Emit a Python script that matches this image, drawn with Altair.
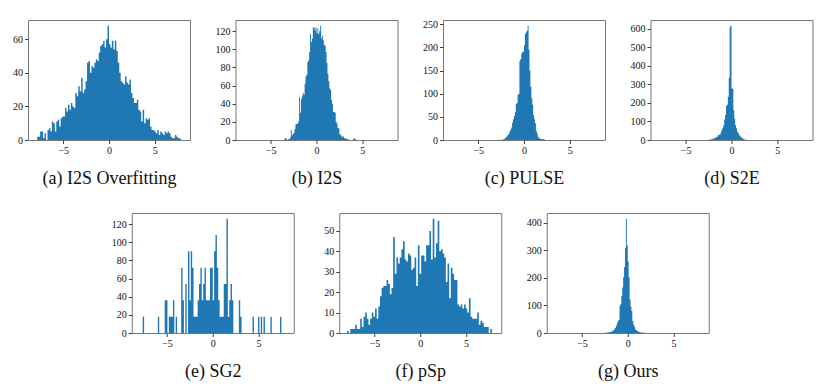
import altair as alt
import pandas as pd

BLUE = "#1f77b4"
X_DOMAIN = [-8.85, 8.85]
SERIF = "Liberation Serif, Times New Roman, Times, DejaVu Serif, serif"

captions = ["(a) I2S Overfitting", "(b) I2S", "(c) PULSE", "(d) S2E",
            "(e) SG2", "(f) pSp", "(g) Ours"]

# (a) I2S Overfitting
a_start, a_width = -8.0, 0.16
a_counts = [0, 2, 2, 5, 5, 1, 4, 0, 6, 7,
            5, 11, 10, 5, 11, 12, 8, 13, 14, 14,
            19, 17, 21, 18, 22, 20, 19, 28, 26, 32,
            29, 37, 28, 30, 35, 46, 47, 40, 44, 43,
            46, 48, 47, 52, 56, 57, 59, 55, 60, 68,
            57, 55, 59, 54, 59, 53, 46, 40, 35, 34,
            33, 38, 34, 33, 36, 28, 25, 22, 22, 24,
            18, 17, 11, 18, 10, 13, 12, 13, 8, 6,
            6, 5, 4, 6, 3, 5, 4, 3, 5, 4,
            5, 4, 2, 1, 1, 3, 2, 1, 1, 0]

# (b) I2S
b_start, b_width = -3.5, 0.1
b_counts = [2, 2, 1, 0, 1, 1, 3, 11, 5, 7,
            8, 12, 17, 18, 18, 20, 47, 30, 45, 48,
            52, 50, 62, 70, 72, 86, 88, 97, 117, 108,
            112, 124, 124, 121, 124, 118, 123, 117, 120, 126,
            112, 115, 110, 105, 104, 97, 85, 73, 65, 57,
            55, 44, 40, 31, 31, 30, 20, 18, 13, 13,
            6, 6, 4, 3, 4, 2, 2, 1, 1, 1,
            0, 0, 0, 0, 0, 1, 2, 1]

# (c) PULSE
c_start, c_width = -2.7, 0.1
c_counts = [1, 0, 0, 1, 1, 2, 4, 6, 8, 11,
            13, 18, 22, 27, 38, 45, 52, 60, 78, 80,
            97, 100, 171, 175, 187, 190, 191, 205, 229, 233,
            236, 247, 195, 150, 115, 90, 76, 54, 45, 36,
            20, 14, 7, 4, 3, 2, 2, 1, 2, 1]

# (d) S2E
d_start, d_width = -2.5, 0.1
d_counts = [1, 2, 3, 5, 6, 8, 10, 12, 16, 18,
            25, 28, 30, 40, 54, 65, 80, 110, 134, 183,
            190, 233, 335, 610, 615, 278, 275, 160, 113, 80,
            63, 45, 36, 28, 22, 15, 12, 8, 5, 3,
            2, 1]

# (e) SG2  (non-empty bins only)
e_width = 0.15
e_left = [-7.65, -6.0, -5.25, -5.1, -4.8, -4.65, -4.5, -4.35, -4.05, -3.45,
          -3.3, -3.0, -2.7, -2.55, -2.4, -2.25, -2.1, -1.95, -1.8, -1.65,
          -1.5, -1.35, -1.2, -1.05, -0.9, -0.75, -0.6, -0.45, -0.3, -0.15,
          0.0, 0.15, 0.3, 0.45, 0.6, 0.75, 0.9, 1.05, 1.2, 1.35,
          1.5, 1.65, 1.8, 1.95, 2.1, 2.85, 3.0, 4.35, 4.95, 5.25,
          5.55, 6.3, 7.35]
e_counts = [18, 18, 36, 36, 18, 18, 18, 36, 18, 72,
            36, 54, 90, 36, 90, 72, 18, 18, 18, 36,
            54, 72, 36, 54, 72, 36, 36, 36, 72, 72,
            36, 90, 108, 72, 36, 18, 18, 18, 54, 54,
            126, 18, 36, 54, 36, 36, 18, 18, 18, 18,
            18, 18, 18]

# (f) pSp
f_start, f_width = -8.0, 0.18
f_counts = [1, 0, 2, 2, 2, 4, 2, 2, 7, 3,
            8, 10, 7, 4, 7, 10, 8, 12, 7, 13,
            18, 22, 23, 23, 26, 24, 19, 22, 47, 29,
            37, 34, 37, 41, 45, 36, 35, 39, 38, 31,
            32, 37, 23, 43, 29, 38, 38, 35, 43, 43,
            50, 36, 56, 37, 44, 55, 40, 41, 39, 37,
            25, 34, 17, 32, 29, 26, 26, 14, 13, 14,
            12, 14, 12, 10, 17, 8, 7, 7, 7, 10,
            4, 6, 5, 3, 3, 3, 0, 2]

# (g) Ours
g_start, g_width = -2.6, 0.1
g_counts = [1, 1, 1, 2, 2, 3, 3, 4, 5, 7,
            9, 13, 18, 26, 35, 44, 47, 98, 105, 135,
            165, 202, 240, 308, 415, 318, 260, 202, 123, 95,
            80, 44, 30, 23, 13, 10, 7, 5, 4, 3,
            2, 2, 2, 1, 1, 1]

y_ticks = {
    "a": [0, 20, 40, 60],
    "b": [0, 20, 40, 60, 80, 100, 120],
    "c": [0, 50, 100, 150, 200, 250],
    "d": [0, 100, 200, 300, 400, 500, 600],
    "e": [0, 20, 40, 60, 80, 100, 120],
    "f": [0, 10, 20, 30, 40, 50],
    "g": [0, 100, 200, 300, 400],
}


def step_table(lefts, width, counts):
    """Histogram outline: each bin holds its count from its left edge to its right edge."""
    xs, ys = [], []
    for i, (left, c) in enumerate(zip(lefts, counts)):
        xs.append(left)
        ys.append(c)
        right = left + width
        nxt = lefts[i + 1] if i + 1 < len(lefts) else None
        if nxt is None or abs(nxt - right) > 1e-6:
            xs.append(right)
            ys.append(0)
    return pd.DataFrame({"x": xs, "count": ys})


def regular(start, width, counts):
    return step_table([start + i * width for i in range(len(counts))], width, counts)


def panel(df, ticks, caption):
    ymax = max(df["count"]) * 1.05
    return alt.Chart(df).mark_area(color=BLUE, interpolate="step-after", opacity=1).encode(
        x=alt.X("x:Q", scale=alt.Scale(domain=X_DOMAIN, nice=False, zero=False),
                axis=alt.Axis(values=[-5, 0, 5], title=caption, titlePadding=14)),
        y=alt.Y("count:Q", scale=alt.Scale(domain=[0, ymax], nice=False, zero=True),
                axis=alt.Axis(values=ticks, title=None), stack=None),
    ).properties(width=162, height=120)


pa = panel(regular(a_start, a_width, a_counts), y_ticks["a"], captions[0])
pb = panel(regular(b_start, b_width, b_counts), y_ticks["b"], captions[1])
pc = panel(regular(c_start, c_width, c_counts), y_ticks["c"], captions[2])
pd_ = panel(regular(d_start, d_width, d_counts), y_ticks["d"], captions[3])
pe = panel(step_table(e_left, e_width, e_counts), y_ticks["e"], captions[4])
pf = panel(regular(f_start, f_width, f_counts), y_ticks["f"], captions[5])
pg = panel(regular(g_start, g_width, g_counts), y_ticks["g"], captions[6])

row1 = alt.hconcat(pa, pb, pc, pd_, spacing=45.5, bounds="flush").resolve_scale(x="independent", y="independent")
row2 = alt.hconcat(pe, pf, pg, spacing=45.5, bounds="flush").resolve_scale(x="independent", y="independent")

chart = alt.vconcat(row1, row2, spacing=24, center=True).resolve_scale(
    x="independent", y="independent"
).properties(
    padding={"left": 4, "top": 10, "right": 5, "bottom": 2},
    background="white",
).configure_view(
    stroke="#777", strokeWidth=1
).configure_axis(
    grid=False, domain=False,
    labelFont=SERIF, labelFontSize=10, labelColor="#111", labelPadding=2,
    tickColor="#111", tickSize=3.5, tickWidth=0.8,
    titleFont=SERIF, titleFontSize=18, titleFontWeight="normal", titleColor="#111",
)

chart.save("out.html", embed_options={"renderer": "svg", "actions": False})
